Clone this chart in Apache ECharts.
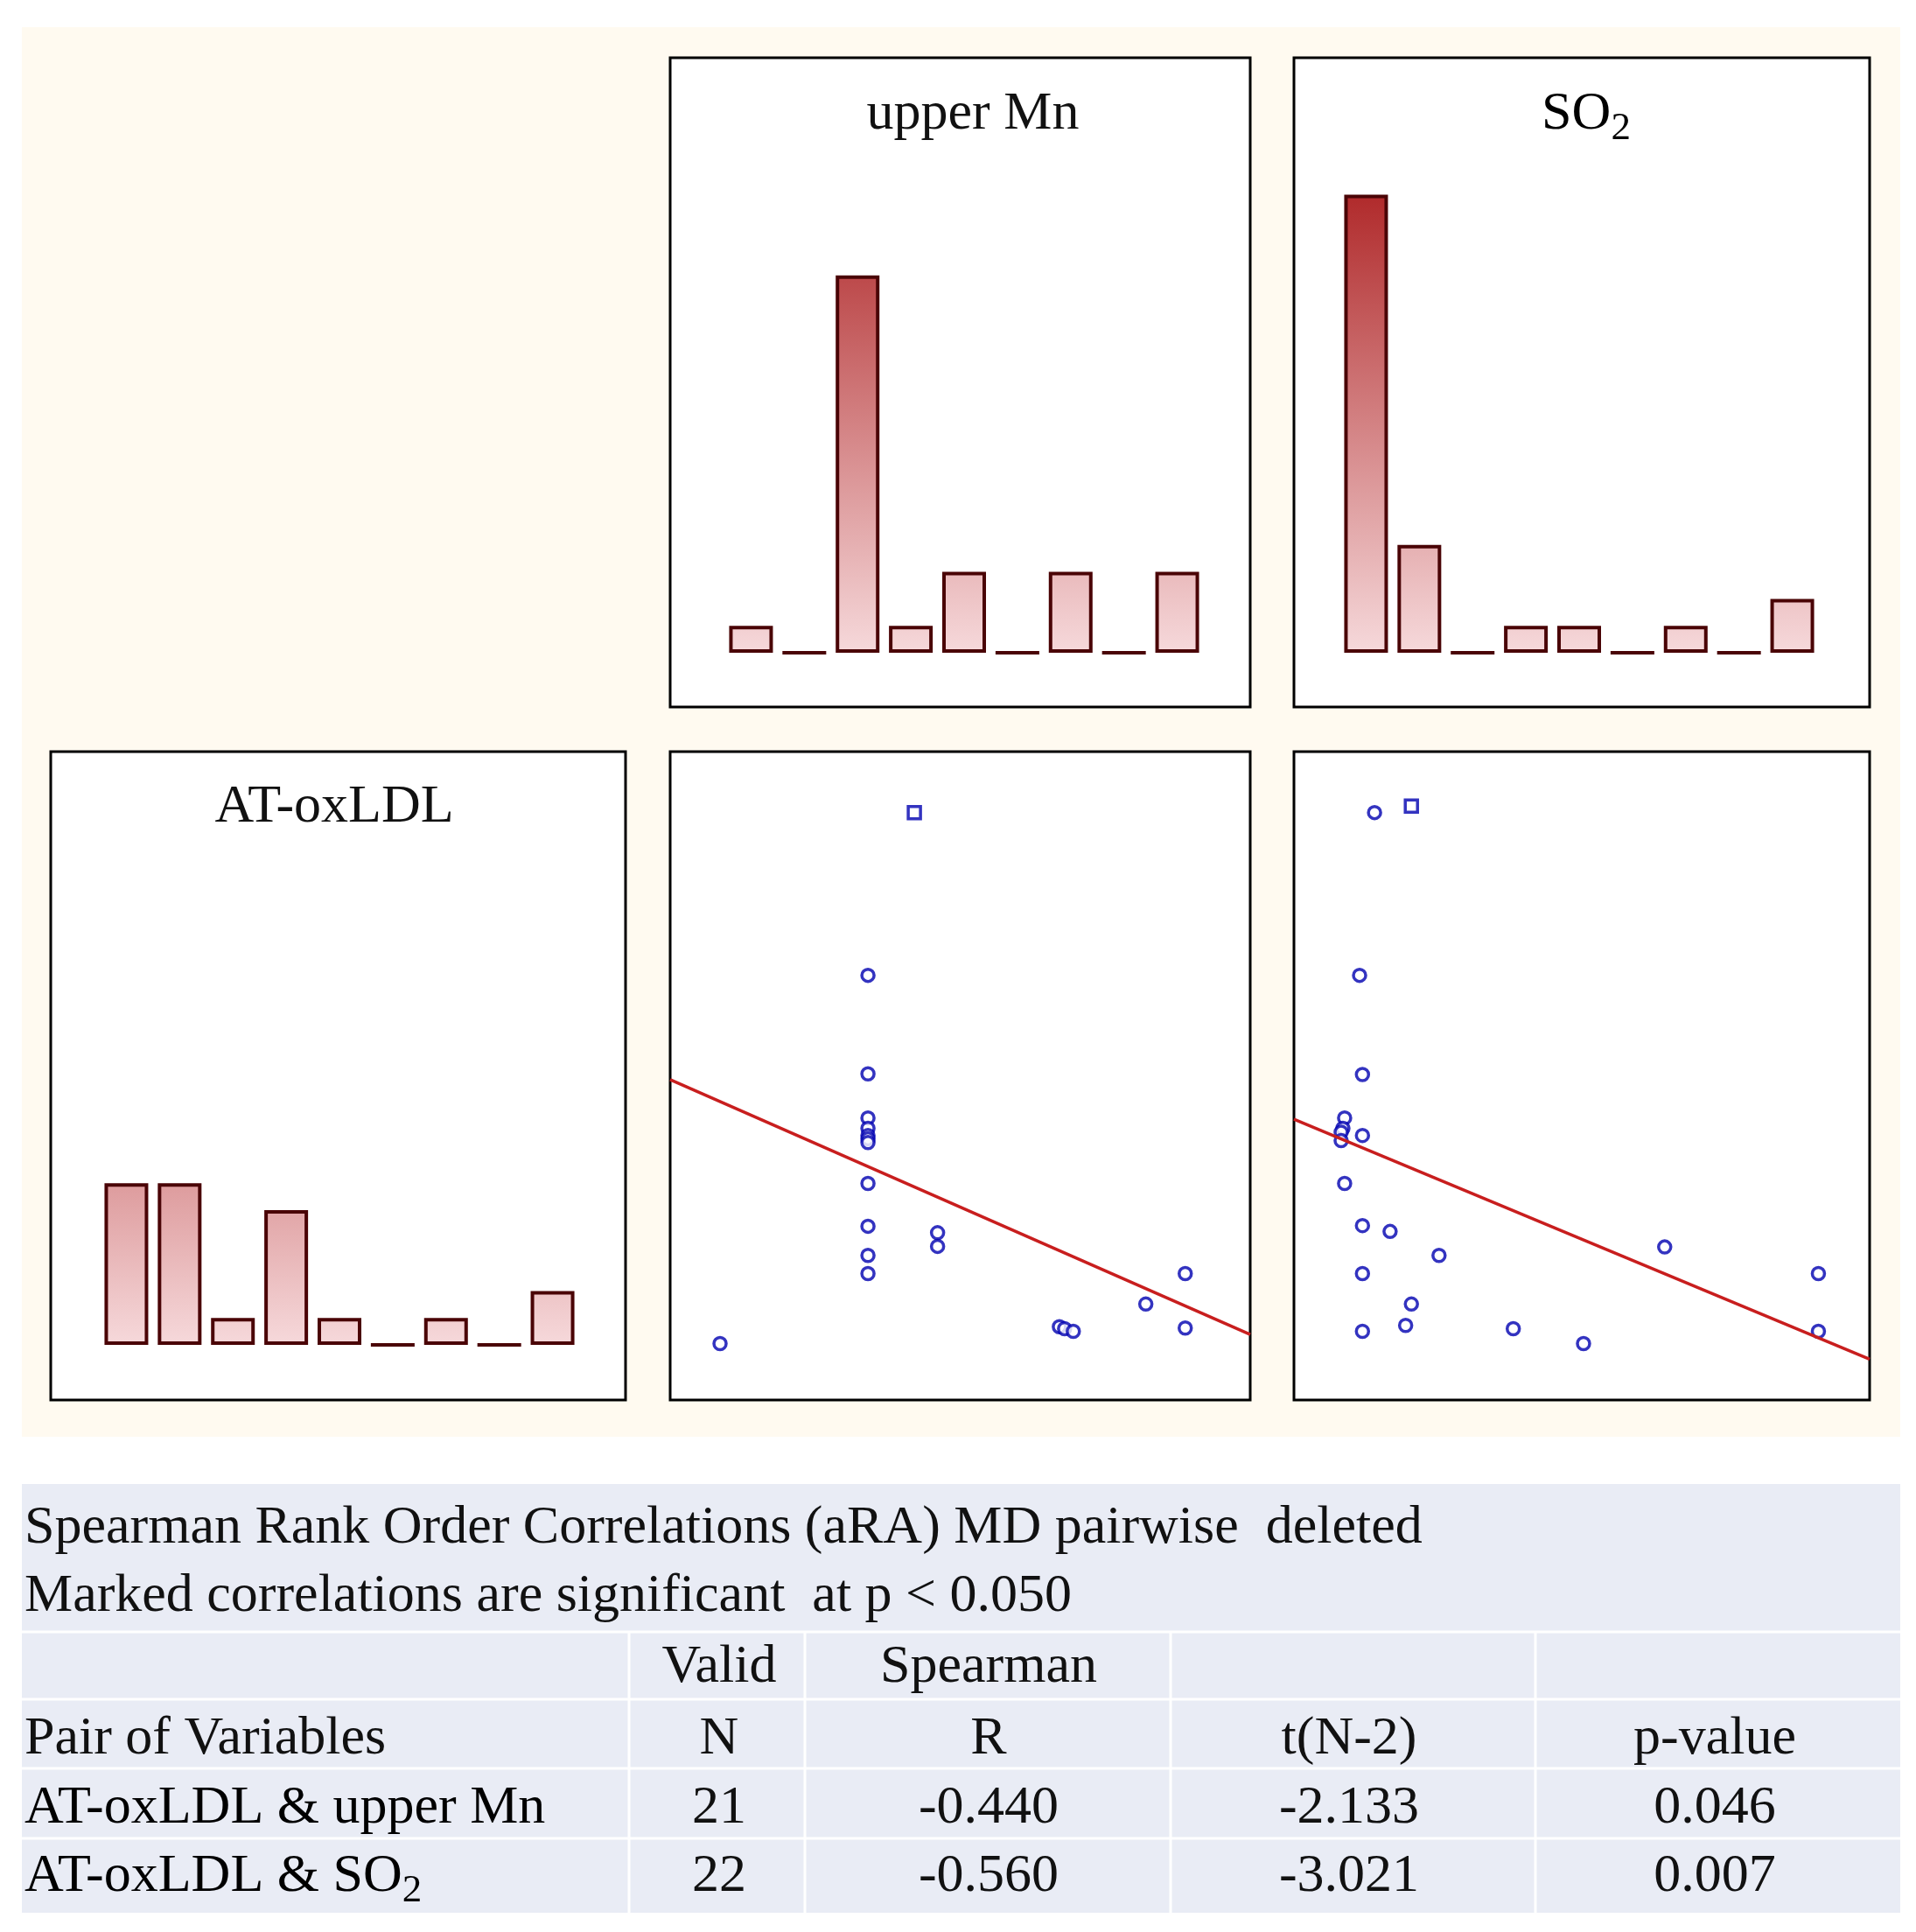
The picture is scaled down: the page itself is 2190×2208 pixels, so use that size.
<!DOCTYPE html>
<html>
<head>
<meta charset="utf-8">
<script src="https://cdn.jsdelivr.net/npm/echarts@6/dist/echarts.min.js"></script>
<style>
html, body { margin: 0; padding: 0; background: #fff; }
#chart { width: 2190px; height: 2208px; }
</style>
</head>
<body>
<div id="chart"></div>
<script>
// histogram bins (9 equal bins per variable)
var binNames = ['1', '2', '3', '4', '5', '6', '7', '8', '9'];
var mnCounts = [1, 0, 14, 1, 3, 0, 3, 0, 3];
var so2Counts = [17, 4, 0, 1, 1, 0, 1, 0, 2];
var oxCounts = [6, 6, 1, 5, 1, 0, 1, 0, 2];

// scatter: x = predictor (scaled 0-100), y = AT-oxLDL (scaled 0-100)
var mnPoints = [
  [34.1, 65.5], [34.1, 50.3], [34.1, 43.5], [34.1, 41.9], [34.1, 40.8],
  [34.1, 40.3], [34.1, 39.7], [34.1, 33.4], [34.1, 26.8], [34.1, 22.3],
  [34.1, 19.5], [46.1, 25.8], [46.1, 23.7], [8.6, 8.7], [67.1, 11.3],
  [68.0, 11.0], [69.5, 10.6], [82.0, 14.8], [88.8, 19.5], [88.8, 11.1]
];
var mnSquares = [[42.1, 90.6]];
var mnFit = [[0, 49.4], [100, 10.1]];

var so2Points = [
  [14.0, 90.6], [11.4, 65.5], [11.9, 50.2], [8.8, 43.5], [8.5, 41.9],
  [8.2, 41.3], [8.2, 40.0], [11.9, 40.8], [8.8, 33.4], [11.9, 26.9],
  [16.7, 26.0], [25.2, 22.3], [11.9, 19.5], [20.4, 14.8], [19.4, 11.5],
  [11.9, 10.6], [38.1, 11.0], [50.3, 8.7], [64.4, 23.6], [91.1, 19.5],
  [91.1, 10.6]
];
var so2Squares = [[20.4, 91.6]];
var so2Fit = [[0, 43.3], [100, 6.3]];

// results table
var tableTitle = [
  'Spearman Rank Order Correlations (aRA) MD pairwise  deleted',
  'Marked correlations are significant  at p < 0.050'
];
var headRow1 = ['', 'Valid', 'Spearman', '', ''];
var headRow2 = ['Pair of Variables', 'N', 'R', 't(N-2)', 'p-value'];
var pairNames = ['{t|AT-oxLDL & upper Mn}', '{t|AT-oxLDL & SO}{s|2}'];
var validN = ['21', '22'];
var spearmanR = ['-0.440', '-0.560'];
var tValues = ['-2.133', '-3.021'];
var pValues = ['0.046', '0.007'];

var chart = echarts.init(document.getElementById('chart'));
var serif = 'Liberation Serif, Times New Roman, serif';

// panel frames [x, y, w, h]
var frames = [
  [766, 66, 663, 742],
  [1479, 66, 658, 742],
  [58, 859, 657, 741],
  [766, 859, 663, 741],
  [1479, 859, 658, 741]
];

function barGradient(baseY) {
  return new echarts.graphic.LinearGradient(0, baseY - 524, 0, baseY, [
    { offset: 0, color: '#b02a2b' },
    { offset: 1, color: '#f6d9db' }
  ], true);
}

// main text plus a lowered subscript
function richSO(size) {
  return {
    t: { fontFamily: serif, fontSize: size, lineHeight: size, color: '#111' },
    s: { fontFamily: serif, fontSize: Math.round(size * 0.72), height: Math.round(size * 0.48), lineHeight: Math.round(size * 0.48), verticalAlign: 'bottom', color: '#111' }
  };
}

var graphics = [];
graphics.push({ type: 'rect', z: -10, shape: { x: 25, y: 31, width: 2147, height: 1611 }, style: { fill: '#fffaf0' } });
frames.forEach(function (f) {
  graphics.push({ type: 'rect', z: -5, shape: { x: f[0], y: f[1], width: f[2], height: f[3] }, style: { fill: '#fff', stroke: '#000', lineWidth: 3 } });
});

// panel titles
graphics.push({ type: 'text', z: 10, x: 1112, y: 131, style: { text: 'upper Mn', font: '62px ' + serif, fill: '#111', textAlign: 'center', textVerticalAlign: 'middle' } });
graphics.push({ type: 'text', z: 10, x: 1813, y: 131, style: { text: '{t|SO}{s|2}', rich: richSO(62), textAlign: 'center', textVerticalAlign: 'middle' } });
graphics.push({ type: 'text', z: 10, x: 382, y: 923, style: { text: 'AT-oxLDL', font: '62px ' + serif, fill: '#111', textAlign: 'center', textVerticalAlign: 'middle' } });

// table
var tX = 25, tY = 1696, tW = 2147, tH = 490;
graphics.push({ type: 'rect', z: -10, shape: { x: tX, y: tY, width: tW, height: tH }, style: { fill: '#e9ecf5' } });
[1865, 1942, 2021, 2101].forEach(function (y) {
  graphics.push({ type: 'rect', z: -9, shape: { x: tX, y: y - 1.5, width: tW, height: 3 }, style: { fill: '#fff' } });
});
[719, 920, 1338, 1755].forEach(function (x) {
  graphics.push({ type: 'rect', z: -9, shape: { x: x - 1.5, y: 1865, width: 3, height: tY + tH - 1865 }, style: { fill: '#fff' } });
});

var colX = [28, 822, 1130, 1542, 1960];
var rowY = [1906, 1988, 2067, 2145];

function cell(txt, x, y, align) {
  graphics.push({
    type: 'text', z: 10, x: x, y: y,
    style: { text: txt, font: '62px ' + serif, fill: '#111', textAlign: align, textVerticalAlign: 'middle' }
  });
}
function richCell(txt, x, y, align) {
  graphics.push({
    type: 'text', z: 10, x: x, y: y,
    style: { text: txt, rich: richSO(62), textAlign: align, textVerticalAlign: 'middle' }
  });
}

cell(tableTitle[0], colX[0], 1747, 'left');
cell(tableTitle[1], colX[0], 1825, 'left');
for (var c = 0; c < 5; c++) {
  if (headRow1[c]) cell(headRow1[c], colX[c], rowY[0], c === 0 ? 'left' : 'center');
  cell(headRow2[c], colX[c], rowY[1], c === 0 ? 'left' : 'center');
}
for (var r = 0; r < pairNames.length; r++) {
  richCell(pairNames[r], colX[0], rowY[2 + r], 'left');
  cell(validN[r], colX[1], rowY[2 + r], 'center');
  cell(spearmanR[r], colX[2], rowY[2 + r], 'center');
  cell(tValues[r], colX[3], rowY[2 + r], 'center');
  cell(pValues[r], colX[4], rowY[2 + r], 'center');
}

function hiddenAxis(type, idx, extra) {
  var a = { type: type, gridIndex: idx, show: false };
  for (var k in extra) a[k] = extra[k];
  return a;
}

var barStyle = function (baseY) {
  return { color: barGradient(baseY), borderColor: '#4a0406', borderWidth: 4 };
};
var dotStyle = { color: '#fff', borderColor: '#0000b0', borderWidth: 3.5 };
var fitStyle = { color: '#c81e1e', width: 3.5 };

option = {
  backgroundColor: '#fff',
  animation: false,
  graphic: graphics,
  grid: [
    { left: 828, top: 66, width: 548, height: 680 },
    { left: 1531, top: 66, width: 548, height: 680 },
    { left: 114, top: 859, width: 548, height: 678 },
    { left: 766, top: 859, width: 663, height: 741 },
    { left: 1479, top: 859, width: 658, height: 741 }
  ],
  xAxis: [
    hiddenAxis('category', 0, { data: binNames }),
    hiddenAxis('category', 1, { data: binNames }),
    hiddenAxis('category', 2, { data: binNames }),
    hiddenAxis('value', 3, { min: 0, max: 100 }),
    hiddenAxis('value', 4, { min: 0, max: 100 })
  ],
  yAxis: [
    hiddenAxis('value', 0, { min: 0, max: 22.08 }),
    hiddenAxis('value', 1, { min: 0, max: 22.08 }),
    hiddenAxis('value', 2, { min: 0, max: 22.01 }),
    hiddenAxis('value', 3, { min: 0, max: 100 }),
    hiddenAxis('value', 4, { min: 0, max: 100 })
  ],
  series: [
    { type: 'bar', xAxisIndex: 0, yAxisIndex: 0, data: mnCounts, barWidth: 50, itemStyle: barStyle(746), silent: true },
    { type: 'bar', xAxisIndex: 1, yAxisIndex: 1, data: so2Counts, barWidth: 50, itemStyle: barStyle(746), silent: true },
    { type: 'bar', xAxisIndex: 2, yAxisIndex: 2, data: oxCounts, barWidth: 50, itemStyle: barStyle(1537), silent: true },
    { type: 'line', xAxisIndex: 3, yAxisIndex: 3, data: mnFit, symbol: 'none', lineStyle: fitStyle, silent: true },
    { type: 'scatter', xAxisIndex: 3, yAxisIndex: 3, data: mnPoints, symbol: 'circle', symbolSize: 14, itemStyle: dotStyle, silent: true },
    { type: 'scatter', xAxisIndex: 3, yAxisIndex: 3, data: mnSquares, symbol: 'rect', symbolSize: 14, itemStyle: dotStyle, silent: true },
    { type: 'line', xAxisIndex: 4, yAxisIndex: 4, data: so2Fit, symbol: 'none', lineStyle: fitStyle, silent: true },
    { type: 'scatter', xAxisIndex: 4, yAxisIndex: 4, data: so2Points, symbol: 'circle', symbolSize: 14, itemStyle: dotStyle, silent: true },
    { type: 'scatter', xAxisIndex: 4, yAxisIndex: 4, data: so2Squares, symbol: 'rect', symbolSize: 14, itemStyle: dotStyle, silent: true }
  ]
};

chart.setOption(option);
</script>
</body>
</html>
